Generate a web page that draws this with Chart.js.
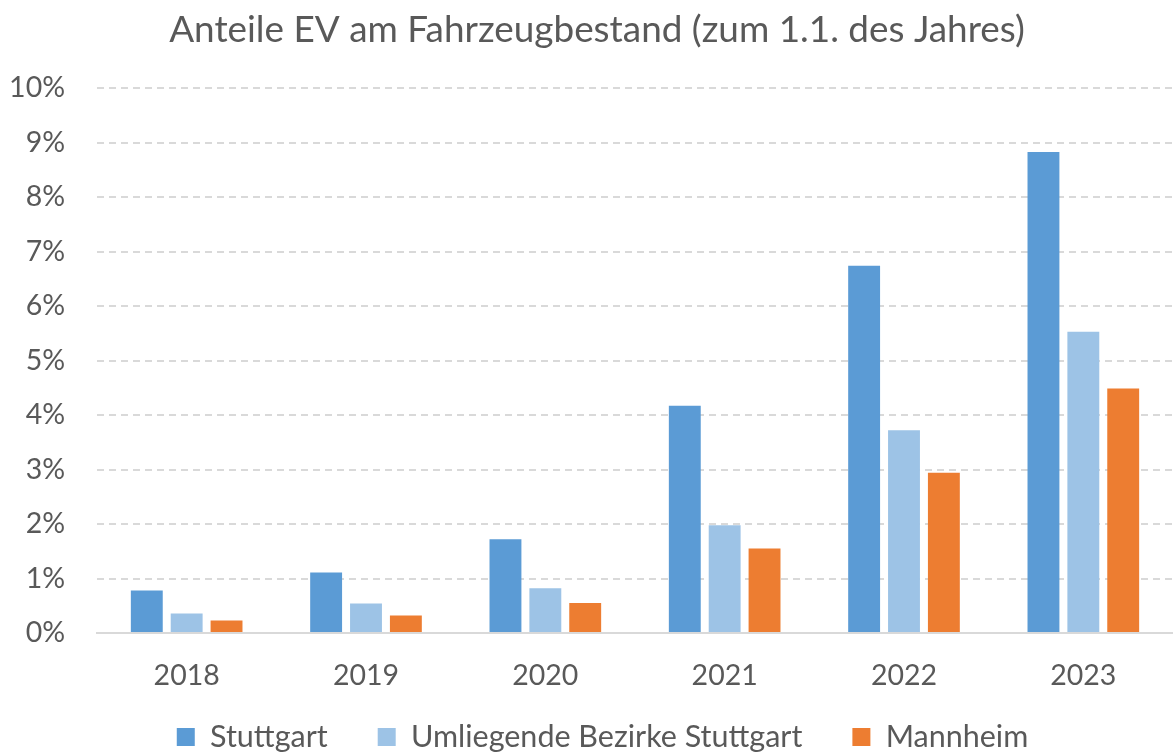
<!DOCTYPE html>
<html>
<head>
<meta charset="utf-8">
<script src="https://cdn.jsdelivr.net/npm/chart.js@4/dist/chart.umd.min.js"></script>
<style>
  html, body { margin: 0; padding: 0; background: #fff; }
  #wrap { width: 1173px; height: 754px; }
</style>
</head>
<body>
<div id="wrap"><canvas id="myChart" width="1173" height="754"></canvas></div>
<script>
  // values (percent)
  const years = ["2018", "2019", "2020", "2021", "2022", "2023"];
  const stuttgart = [0.78, 1.11, 1.72, 4.17, 6.74, 8.83];
  const umliegend = [0.36, 0.54, 0.82, 1.98, 3.72, 5.53];
  const mannheim = [0.23, 0.32, 0.55, 1.55, 2.94, 4.49];
  const seriesNames = ["Stuttgart", "Umliegende Bezirke Stuttgart", "Mannheim"];
  const titleText = "Anteile EV am Fahrzeugbestand (zum 1.1. des Jahres)";

  const font = "Lato, 'Open Sans', sans-serif";
  const textColor = "#595959";

  document.addEventListener("DOMContentLoaded", function () {
    const ctx = document.getElementById("myChart").getContext("2d");

    const chart = new Chart(ctx, {
      type: "bar",
      data: {
        labels: years,
        datasets: [
          { label: seriesNames[0], data: stuttgart, backgroundColor: "#5B9BD5" },
          { label: seriesNames[1], data: umliegend, backgroundColor: "#9DC3E6" },
          { label: seriesNames[2], data: mannheim, backgroundColor: "#ED7D31" },
        ],
      },
      options: {
        responsive: false,
        animation: false,
        categoryPercentage: 0.667,
        barPercentage: 0.8,
        layout: { padding: 0 },
        plugins: {
          title: {
            display: true,
            text: titleText,
            color: textColor,
            font: { family: font, size: 36.9, weight: "normal" },
            padding: { top: 8, bottom: 36 },
          },
          legend: {
            position: "bottom",
            labels: {
              color: textColor,
              font: { family: font, size: 30.5 },
              boxWidth: 18,
              boxHeight: 18,
              padding: 50, // horizontal gap between items
            },
          },
          tooltip: { enabled: false },
        },
        scales: {
          x: {
            afterFit: (scale) => {
              scale.height = 60;
            },
            grid: { display: false, drawTicks: false },
            border: { display: true, color: "#d9d9d9", width: 2 },
            ticks: {
              color: textColor,
              font: { family: font, size: 28.5 },
              padding: 26,
            },
          },
          y: {
            min: 0,
            max: 10,
            afterFit: (scale) => {
              scale.width = 97;
            },
            grid: {
              color: (c) => (c.tick && c.tick.value === 0 ? "rgba(0,0,0,0)" : "#d9d9d9"),
              lineWidth: 2,
              drawTicks: false,
            },
            border: { display: false, dash: [7, 5] },
            ticks: {
              stepSize: 1,
              color: textColor,
              font: { family: font, size: 28.5 },
              padding: 32,
              callback: (v) => v + "%",
            },
          },
        },
      },
    });

    // the label padding also sets the legend height; use a fixed strip instead
    const legend = chart.legend;
    const origFit = legend.fit.bind(legend);
    const origDraw = legend.draw.bind(legend);
    legend.fit = function () {
      origFit();
      this.height = 61;
    };
    legend.draw = function () {
      const top = this.top;
      const left = this.left;
      const pad = this.options.labels.padding;
      const itemH = this.options.labels.font.size;
      this.top = this.bottom - 17 - itemH / 2 - pad;
      this.left = left + 32; // reference legend sits a bit right of centre
      origDraw();
      this.top = top;
      this.left = left;
    };

    // title is also slightly right of centre in the reference
    const titleBlock = chart.titleBlock;
    const origTitleDraw = titleBlock.draw.bind(titleBlock);
    titleBlock.draw = function () {
      const left = this.left;
      this.left = left + 21;
      origTitleDraw();
      this.left = left;
    };
    chart.update();
  });
</script>
</body>
</html>
